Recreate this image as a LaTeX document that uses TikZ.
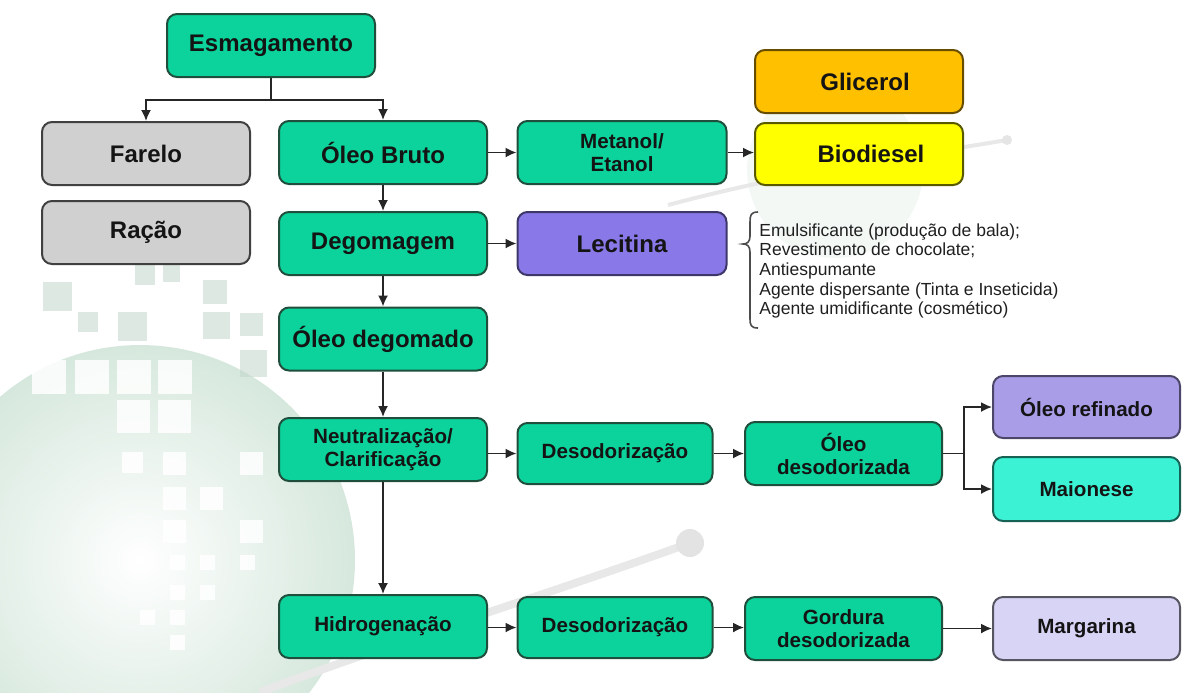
\documentclass[tikz,border=0pt]{standalone}
\usepackage{fontspec}
\setmainfont{Liberation Sans}
\usetikzlibrary{arrows.meta}
\definecolor{Verde}{HTML}{0CD39B}
\definecolor{BordaVerde}{HTML}{1F4F3C}
\definecolor{Cinza}{HTML}{D0D0D0}
\definecolor{BordaCinza}{HTML}{404040}
\definecolor{Laranja}{HTML}{FFC000}
\definecolor{Amarelo}{HTML}{FFFF00}
\definecolor{Roxo}{HTML}{8878E8}
\definecolor{Lilas}{HTML}{A99DE8}
\definecolor{Turquesa}{HTML}{3BF2D4}
\definecolor{Lavanda}{HTML}{D8D4F6}
\definecolor{Fundo}{HTML}{D6E8DD}
\definecolor{FundoQ}{HTML}{C3D6CB}

\begin{document}
\begin{tikzpicture}[x=0.5pt, y=-0.5pt]

      \tikzstyle{Caixa}=[rectangle, rounded corners=5pt, draw=BordaVerde, line width=1pt, fill=Verde,
        minimum width=104pt, minimum height=31.5pt, inner sep=0pt, align=center, text=black!92,
        font=\bfseries\fontsize{12}{14}\selectfont];
      \tikzstyle{Pequena}=[font=\bfseries\fontsize{10.3}{11.5}\selectfont];
      \tikzstyle{seta}=[-{Latex[length=5.5pt,width=5pt]}, line width=0.85pt, draw=black!85];

      \useasboundingbox (0,0) rectangle (1182,692);

      % fundo
      \begin{scope}
        \clip (0,0) rectangle (1182,692);
        \shade[inner color=white, outer color=Fundo] (140,560) circle (215);
        \foreach \x/\y/\w in {43/282/29, 78/312/20, 118/312/29, 135/265/20, 163/265/17, 203/280/24,
            203/312/27, 240/313/23, 240/350/27}
          \fill[FundoQ, opacity=.55] (\x,\y) rectangle ++(\w,\w);
        \foreach \x/\y/\w in {32/360/34, 75/360/34, 117/360/34, 158/360/34, 117/400/33, 158/400/33,
            122/452/21, 163/452/23, 240/452/23, 163/487/23, 200/487/23, 163/520/23, 240/520/23,
            170/555/15, 200/555/15, 240/555/15, 170/585/15, 200/585/15, 140/610/15, 170/610/15, 170/635/15}
          \fill[white, opacity=.85] (\x,\y) rectangle ++(\w,\w);
        \fill[Fundo, opacity=.3] (835,170) circle (88);
        \draw[black!9, line width=2pt] (668,205) .. controls (800,170) and (900,158) .. (1007,140);
        \fill[black!10] (1007,140) circle (5);
        \draw[black!9, line width=4pt] (260,692) .. controls (400,640) and (560,590) .. (690,543);
        \fill[black!11] (690,543) circle (14);
      \end{scope}

        \node[Caixa](Esmag) at (271,45.5) {Esmagamento};
        \node[Caixa, fill=Cinza, draw=BordaCinza](Farelo) at (146,153.5) {Farelo};
        \node[Caixa, fill=Cinza, draw=BordaCinza](Racao) at (146,232.5) {Ração};

        \node[Caixa](OleoBruto) at (383,152.5) {Óleo Bruto};
        \node[Caixa](Degom) at (383,243.5) {Degomagem};
        \node[Caixa](OleoDegom) at (383,339) {Óleo degomado};
        \node[Caixa, Pequena](Neutral) at (383,449.5) {Neutralização/\\Clarificação};
        \node[Caixa, Pequena](Hidrog) at (383,626.5) {Hidrogenação};

        \node[Caixa, Pequena, minimum width=104.5pt](Metanol) at (622,152.5) {Metanol/\\Etanol};
        \node[Caixa, fill=Laranja, draw=black!60!Laranja](Glicerol) at (859,81.5) {\hspace{6pt}Glicerol};
        \node[Caixa, fill=Amarelo, draw=black!65!Amarelo, minimum height=31pt](Biodiesel) at (859,154) {\hspace{12pt}Biodiesel};
        \node[Caixa, fill=Roxo, draw=black!55!Roxo, minimum width=104.5pt](Lecitina) at (622,243.5) {Lecitina};

        % usos da lecitina
        \draw[line width=0.8pt, draw=black!70] (758,212) .. controls (751,212) and (750,215) .. (750,222)
          -- (750,236) .. controls (750,242) and (747,244) .. (743,244)
          .. controls (747,244) and (750,246) .. (750,252)
          -- (750,319) .. controls (750,325) and (751,328) .. (758,328);
        \node[anchor=west, align=left, inner sep=0pt, text=black!88,
          font=\fontsize{8.75}{9.85}\selectfont](Usos) at (759,271) {
          Emulsificante (produção de bala);\\
          Revestimento de chocolate;\\
          Antiespumante\\
          Agente dispersante (Tinta e Inseticida)\\
          Agente umidificante (cosmético)};

        \node[Caixa, Pequena, minimum width=97.5pt, minimum height=30.5pt](Desod) at (615,453.5) {Desodorização};
        \node[Caixa, Pequena, minimum width=98.5pt](OleoDesod) at (843.5,453.5) {Óleo\\desodorizada};
        \node[Caixa, Pequena, fill=Lilas, draw=black!55!Lilas, minimum width=93.5pt, minimum height=31pt](Refinado) at (1086.5,407) {Óleo refinado};
        \node[Caixa, Pequena, fill=Turquesa, draw=black!60!Turquesa, minimum width=93.5pt, minimum height=32pt](Maionese) at (1086.5,489) {Maionese};

        \node[Caixa, Pequena, minimum width=97.5pt, minimum height=30.5pt](DesodH) at (615,627.5) {Desodorização};
        \node[Caixa, Pequena, minimum width=98.5pt](Gordura) at (843.5,628.5) {Gordura\\desodorizada};
        \node[Caixa, Pequena, fill=Lavanda, draw=black!60!Lavanda, minimum width=93.5pt](Margarina) at (1086.5,628.5) {Margarina};

        \draw[seta] (Esmag.south) -- ++(0,22) -| (Farelo.north);
        \draw[seta] (Esmag.south) -- ++(0,22) -| (OleoBruto.north);

        \draw[seta] (OleoBruto) -- (Metanol);
        \draw[seta] (Metanol.east) -- (Metanol.east -| Biodiesel.west);
        \draw[seta] (OleoBruto) -- (Degom);
        \draw[seta] (Degom) -- (Lecitina);
        \draw[seta] (Degom) -- (OleoDegom);
        \draw[seta] (OleoDegom) -- (Neutral);
        \draw[seta] (Neutral) -- (Hidrog);

        \draw[seta] (Desod.west -| Neutral.east) -- (Desod.west);
        \draw[seta] (Desod) -- (OleoDesod);
        \draw[seta] (OleoDesod.east) -- ++(21,0) |- (Refinado.west);
        \draw[seta] (OleoDesod.east) -- ++(21,0) |- (Maionese.west);

        \draw[seta] (DesodH.west -| Hidrog.east) -- (DesodH.west);
        \draw[seta] (DesodH.east) -- (DesodH.east -| Gordura.west);
        \draw[seta] (Gordura) -- (Margarina);

    \end{tikzpicture}
\end{document}
